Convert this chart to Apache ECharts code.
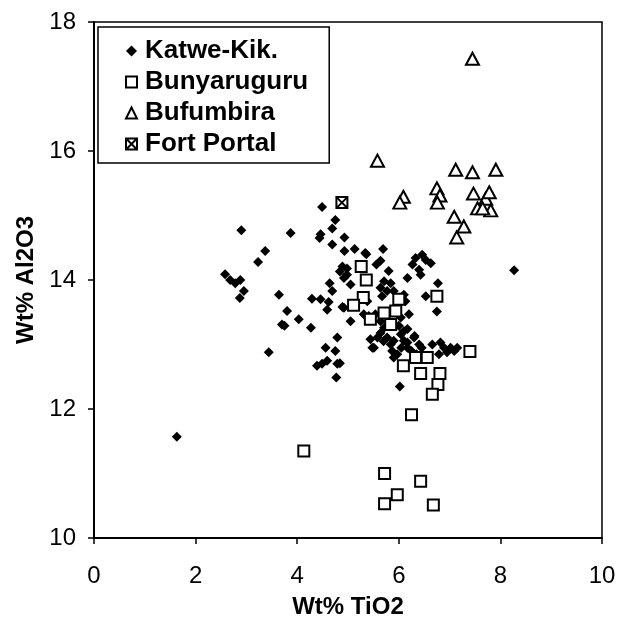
<!DOCTYPE html>
<html>
<head>
<meta charset="utf-8">
<script src="https://cdn.jsdelivr.net/npm/echarts@6/dist/echarts.min.js"></script>
<style>
  html, body { margin: 0; padding: 0; background: #fff; }
  #chart { width: 622px; height: 624px; }
</style>
</head>
<body>
<div id="chart"></div>
<script>
// axis ticks
var xTicks = [0, 2, 4, 6, 8, 10];
var yTicks = [10, 12, 14, 16, 18];

// Katwe-Kik. [TiO2, Al2O3]
var katwe = [
  [4.49,15.13],[2.90,14.77],[3.87,14.73],[4.46,14.71],[4.44,14.65],[4.75,14.93],[4.69,14.80],[4.69,14.55],
  [3.37,14.45],[3.23,14.28],[2.58,14.09],[2.68,14.00],[2.78,13.95],[2.88,14.00],[2.95,13.83],[2.87,13.72],
  [3.64,13.77],[4.29,13.71],[4.46,13.70],[4.62,13.66],[4.64,13.95],[4.69,13.83],[4.59,13.54],[4.84,14.13],
  [3.80,13.52],[4.03,13.39],[3.70,13.31],[3.75,13.29],[4.27,13.26],[4.79,13.11],[4.56,12.95],[4.75,12.90],
  [3.44,12.88],[4.59,12.75],[4.39,12.67],[4.49,12.70],[4.79,12.70],[4.77,12.49],
  [4.93,14.66],[5.13,14.48],[4.93,14.45],[5.36,14.40],[5.69,14.48],[5.64,14.30],[5.56,14.24],[5.80,14.14],
  [4.89,14.21],[4.98,14.08],[5.05,13.93],[4.89,13.58],[5.05,13.36],
  [5.71,13.98],[5.84,13.95],[5.64,13.88],[5.77,13.83],[5.67,13.75],[6.17,14.03],[6.27,14.24],[6.33,14.34],
  [6.46,14.39],[6.53,14.31],[6.63,14.26],[6.40,14.16],[6.43,14.08],[6.77,13.95],[6.53,13.75],[6.75,13.51],
  [6.20,13.47],[6.04,13.42],[5.54,13.47],[5.64,13.36],[5.41,13.44],[5.71,13.26],[5.64,13.18],[5.77,13.11],
  [5.90,13.06],[5.44,13.08],[5.51,12.95],[6.04,13.16],[6.10,13.21],[6.17,13.03],[6.30,13.11],[5.87,12.90],
  [5.97,12.85],[5.90,12.80],[6.82,13.03],[6.89,12.95],[6.95,12.88],[7.02,12.95],[7.09,12.90],[6.79,12.85],
  [6.02,12.35],[8.27,14.15],[1.63,11.57],[4.84,12.71],[4.98,14.18],[4.92,14.03],[6.31,13.13],[5.58,13.11],
  [5.84,13.00],[6.10,13.06],[6.17,12.95],[5.48,12.95],[4.92,13.57],[5.31,13.47],[5.38,13.67],[5.90,13.83],
  [6.10,13.77],[6.13,13.67],[6.00,13.29],[6.17,13.24],[5.34,14.42],[6.66,13.00],[7.15,12.95],[6.25,12.90],
  [6.35,12.85],[6.45,12.95],[6.05,12.95],[5.70,13.05],[6.40,13.00]
];

// Bunyaruguru
var bunyaruguru = [
  [5.26,14.21],[5.36,14.00],[5.30,13.73],[5.11,13.61],[5.44,13.39],[5.71,13.49],[5.94,13.52],[6.00,13.70],
  [5.84,13.31],[6.75,13.75],[6.09,12.67],[6.33,12.80],[6.56,12.80],[6.43,12.55],[6.81,12.55],[6.77,12.38],
  [6.66,12.23],[7.40,12.89],[6.25,11.91],[4.13,11.35],[5.72,11.00],[6.43,10.88],[5.97,10.67],[5.72,10.53],
  [6.68,10.51]
];

// Bufumbira
var bufumbira = [
  [7.45,17.43],[5.58,15.85],[7.12,15.71],[7.45,15.67],[7.91,15.71],[6.09,15.29],[6.02,15.20],[6.75,15.42],
  [6.81,15.31],[6.76,15.20],[7.47,15.34],[7.71,15.26],[7.78,15.36],[7.55,15.11],[7.81,15.08],[7.65,15.11],
  [7.09,14.98],[7.28,14.83],[7.14,14.66]
];

// Fort Portal
var fortPortal = [[4.88,15.20]];

var font = 'Liberation Sans, Arial, sans-serif';
var boxX = 'path://M0,0L10,0L10,10L0,10Z M0,0L10,10 M10,0L0,10';

var chart = echarts.init(document.getElementById('chart'));
var option = {
  animation: false,
  backgroundColor: '#fff',
  grid: {
    left: 94, right: 20, top: 22, bottom: 82,
    show: true, borderColor: '#000', borderWidth: 1.5
  },
  legend: {
    orient: 'vertical',
    left: 98, top: 27,
    padding: [11, 21, 6, 27],
    itemGap: 5,
    itemWidth: 11,
    itemHeight: 11,
    borderColor: '#000',
    borderWidth: 1.5,
    backgroundColor: '#fff',
    textStyle: { fontFamily: font, fontSize: 26, fontWeight: 'bold', color: '#000', padding: [0, 0, 0, 3] },
    data: ['Katwe-Kik.', 'Bunyaruguru', 'Bufumbira', 'Fort Portal']
  },
  xAxis: {
    type: 'value', min: 0, max: 10, interval: 2,
    name: 'Wt% TiO2', nameLocation: 'middle', nameGap: 57,
    nameTextStyle: { fontFamily: font, fontSize: 24, fontWeight: 'bold', color: '#000' },
    axisLine: { show: true, lineStyle: { color: '#000', width: 2 } },
    axisTick: { show: true, inside: false, length: 6, lineStyle: { color: '#000', width: 1.5 } },
    axisLabel: { margin: 26, fontFamily: font, fontSize: 24, color: '#000',
      formatter: function (v) { return xTicks.indexOf(v) >= 0 ? String(v) : ''; } },
    splitLine: { show: false }
  },
  yAxis: {
    type: 'value', min: 10, max: 18, interval: 2,
    name: 'Wt% Al2O3', nameLocation: 'middle', nameGap: 52,
    nameTextStyle: { fontFamily: font, fontSize: 24, fontWeight: 'bold', color: '#000' },
    axisLine: { show: true, lineStyle: { color: '#000', width: 2 } },
    axisTick: { show: true, inside: false, length: 6, lineStyle: { color: '#000', width: 1.5 } },
    axisLabel: { margin: 18, fontFamily: font, fontSize: 24, color: '#000',
      formatter: function (v) { return yTicks.indexOf(v) >= 0 ? String(v) : ''; } },
    splitLine: { show: false }
  },
  series: [
    {
      name: 'Katwe-Kik.', type: 'scatter', symbol: 'diamond', symbolSize: 10,
      itemStyle: { color: '#000', opacity: 1 },
      data: katwe
    },
    {
      name: 'Bunyaruguru', type: 'scatter', symbol: 'rect', symbolSize: 11,
      itemStyle: { color: '#fff', borderColor: '#000', borderWidth: 2, opacity: 1 },
      data: bunyaruguru
    },
    {
      name: 'Bufumbira', type: 'scatter', symbol: 'triangle', symbolSize: [13, 12],
      itemStyle: { color: '#fff', borderColor: '#000', borderWidth: 2, opacity: 1 },
      data: bufumbira
    },
    {
      name: 'Fort Portal', type: 'scatter', symbol: boxX, symbolSize: 11,
      itemStyle: { color: '#fff', borderColor: '#000', borderWidth: 2, opacity: 1 },
      data: fortPortal
    }
  ]
};
chart.setOption(option);
</script>
</body>
</html>
